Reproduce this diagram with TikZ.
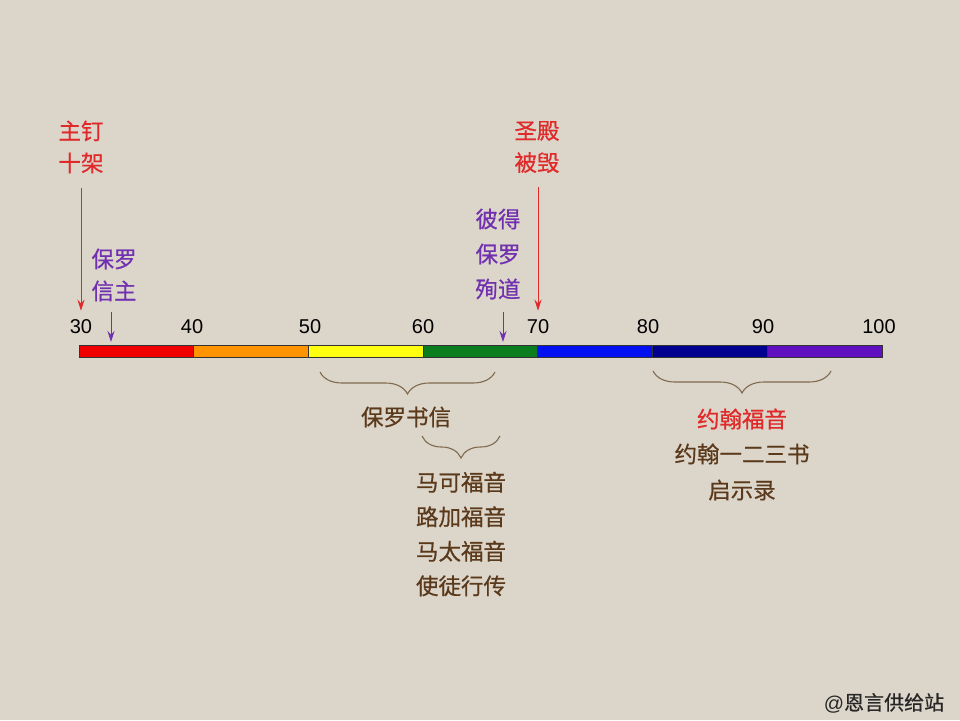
\documentclass[tikz,border=0pt]{standalone}
\usepackage{fontspec}
\setmainfont{Liberation Sans}
\newfontfamily\cjk[FakeBold=0.6]{Noto Sans CJK SC}
\usetikzlibrary{decorations.pathreplacing,arrows.meta}
\definecolor{bg}{HTML}{DCD5CA}
\definecolor{cred}{HTML}{E02A2A}
\definecolor{cpurple}{HTML}{7030B0}
\definecolor{cbrown}{HTML}{5B3A1C}
\definecolor{cbrace}{HTML}{7F6A4F}
\definecolor{sred}{HTML}{F00000}
\definecolor{sorange}{HTML}{FF9400}
\definecolor{syellow}{HTML}{FFFF10}
\definecolor{sgreen}{HTML}{0A7E1E}
\definecolor{sblue}{HTML}{0010F0}
\definecolor{sdblue}{HTML}{000090}
\definecolor{spurple}{HTML}{6010C0}
\tikzset{
  cjklabel/.style={font={\cjk\fontsize{22.5}{32}\selectfont}, align=center, inner sep=0pt},
  ticklabel/.style={font={\fontsize{20}{22}\selectfont}, inner sep=0pt, text=black},
  seg/.style={draw=black!80, line width=0.7pt},
  evarrow/.style={line width=1pt, -{Stealth[length=11pt,width=7pt]}},
  bracestyle/.style={draw=cbrace, line width=1.1pt, decorate, decoration={brace, mirror, amplitude=22pt}},
}
\begin{document}
\begin{tikzpicture}[x=1pt,y=-1pt]
\fill[bg] (0,0) rectangle (960,720);
\useasboundingbox (0,0) rectangle (960,720);

% bar segments
\foreach \c [count=\i from 0] in {sred,sorange,syellow,sgreen,sblue,sdblue,spurple}{
  \path[seg, fill=\c] ({79+114.7*\i},345) rectangle ({79+114.7*(\i+1)},357);
}

% tick labels
\node[ticklabel] (n30) at (81,327) {30};
\node[ticklabel] (n40) at (192,327) {40};
\node[ticklabel] (n50) at (310,327) {50};
\node[ticklabel] (n60) at (423,327) {60};
\node[ticklabel] (n70) at (538,327) {70};
\node[ticklabel] (n80) at (648,327) {80};
\node[ticklabel] (n90) at (763,327) {90};
\node[ticklabel] (n100) at (879,327) {100};

% events
\node[cjklabel, text=cred] (cross) at (81,147) {主钉\\十架};
\node[cjklabel, text=cpurple] (conv) at (114,275) {保罗\\信主};
\node[cjklabel, text=cred] (temple) at (537,147) {圣殿\\被毁};
\node[cjklabel, text=cpurple, font={\cjk\fontsize{22.5}{35}\selectfont}] (martyr) at (498,254) {彼得\\保罗\\殉道};

\draw[evarrow, cred] (cross.south -| n30) ++(0,14) coordinate (crossstart) -- ([yshift=9pt]n30.north);
\draw[evarrow, cred] (temple.south -| n70) ++(0,14) coordinate (templestart) -- ([yshift=9pt]n70.north);

\coordinate (convtop) at (111,312);
\coordinate (convtip) at (111,342);
\draw[evarrow, cpurple] (convtop) -- (convtip);
\coordinate (martyrtop) at (503,312);
\coordinate (martyrtip) at (503,342);
\draw[evarrow, cpurple] (martyrtop) -- (martyrtip);

% braces
\coordinate (b1l) at (320,372);
\coordinate (b1r) at (495,372);
\draw[bracestyle] (b1l) -- (b1r);
\coordinate (b2l) at (422,436);
\coordinate (b2r) at (500,436);
\draw[bracestyle] (b2l) -- (b2r);
\coordinate (b3l) at (653,371);
\coordinate (b3r) at (831,371);
\draw[bracestyle] (b3l) -- (b3r);

% groups
\node[cjklabel, text=cbrown] (pauline) at (406,417) {保罗书信};
\node[cjklabel, text=cbrown, font={\cjk\fontsize{22.5}{34.5}\selectfont}] (synoptic) at (461,534) {马可福音\\路加福音\\马太福音\\使徒行传};
\node[cjklabel, text=cred] (john) at (742,419) {约翰福音};
\node[cjklabel, text=cbrown, font={\cjk\fontsize{22.5}{36}\selectfont}] (johnrest) at (742,472) {约翰一二三书\\启示录};

% watermark
\node[inner sep=0pt, text=black!85, font={\fontsize{20}{22}\selectfont}] (mark) at (884,703) {@{\cjk 恩言供给站}};
\end{tikzpicture}
\end{document}
